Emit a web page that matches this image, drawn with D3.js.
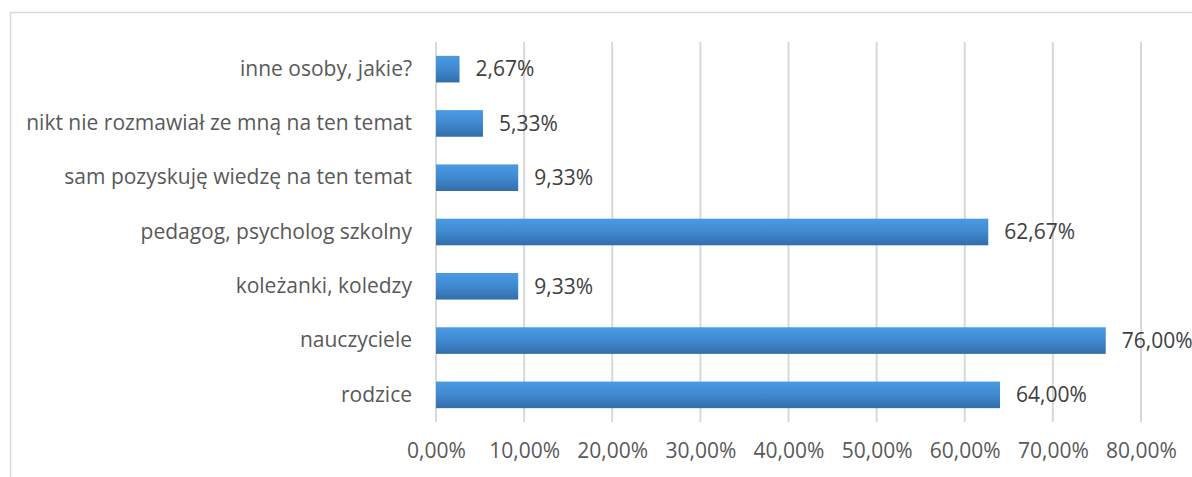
<!DOCTYPE html>
<html>
<head>
<meta charset="utf-8">
<script src="https://cdn.jsdelivr.net/npm/d3@7"></script>
<style>
html,body{margin:0;padding:0;background:#fff;}
svg{display:block;}
</style>
</head>
<body>
<script>
const categories = [
  "inne osoby, jakie?",
  "nikt nie rozmawiał ze mną na ten temat",
  "sam pozyskuję wiedzę na ten temat",
  "pedagog, psycholog szkolny",
  "koleżanki, koledzy",
  "nauczyciele",
  "rodzice"
];
const values = [2.67, 5.33, 9.33, 62.67, 9.33, 76.00, 64.00];
const ticks = [0, 10, 20, 30, 40, 50, 60, 70, 80];

const W = 1192, H = 477;
const FONT = "'Open Sans', 'Liberation Sans', Arial, sans-serif";
const FS = 21;
const fmt = v => v.toFixed(2).replace(".", ",") + "%";

const svg = d3.select("body").append("svg").attr("width", W).attr("height", H);

const defs = svg.append("defs");
const grad = defs.append("linearGradient").attr("id", "barGrad")
  .attr("x1", 0).attr("y1", 0).attr("x2", 0).attr("y2", 1);
grad.append("stop").attr("offset", "0%").attr("stop-color", "#4a9ae3");
grad.append("stop").attr("offset", "45%").attr("stop-color", "#418bd2");
grad.append("stop").attr("offset", "100%").attr("stop-color", "#336ea9");

// outer chart border (partially cropped)
svg.append("rect").attr("x", 10.5).attr("y", 12.5).attr("width", W + 20).attr("height", H + 20)
  .attr("fill", "none").attr("stroke", "#d9d9d9").attr("stroke-width", 1.5);

const x = d3.scaleLinear().domain([0, 80]).range([436, 1141]);
const y = d3.scaleBand().domain(categories).range([42, 422]).paddingInner(0.51).paddingOuter(0.255);

// gridlines
svg.append("g").selectAll("line").data(ticks).join("line")
  .attr("x1", d => x(d)).attr("x2", d => x(d))
  .attr("y1", 42).attr("y2", 422)
  .attr("stroke", "#d9d9d9").attr("stroke-width", 2);

// x axis tick labels
const xAxis = d3.axisBottom(x).tickValues(ticks).tickSize(0).tickPadding(0).tickFormat(d => fmt(d));
const gx = svg.append("g").attr("transform", "translate(0,443)").call(xAxis);
gx.select(".domain").remove();
gx.selectAll("text").attr("font-family", FONT)
  .attr("font-size", FS).attr("fill", "#595959").attr("dy", "0.71em");

// y axis category labels
const yAxis = d3.axisLeft(y).tickSize(0).tickPadding(24);
const gy = svg.append("g").attr("transform", "translate(436,0)").call(yAxis);
gy.select(".domain").remove();
gy.selectAll("text").attr("font-family", FONT)
  .attr("font-size", FS).attr("fill", "#595959");

const data = categories.map((c, i) => ({c, v: values[i]}));

// bars
svg.append("g").selectAll("rect").data(data).join("rect")
  .attr("x", x(0)).attr("y", d => y(d.c))
  .attr("width", d => x(d.v) - x(0)).attr("height", y.bandwidth())
  .attr("fill", "url(#barGrad)");

// value labels
svg.append("g").selectAll("text").data(data).join("text")
  .attr("x", d => x(d.v) + 16).attr("y", d => y(d.c) + y.bandwidth() / 2)
  .attr("dy", "0.35em")
  .attr("font-family", FONT)
  .attr("font-size", FS).attr("fill", "#404040")
  .text(d => fmt(d.v));
</script>
</body>
</html>
